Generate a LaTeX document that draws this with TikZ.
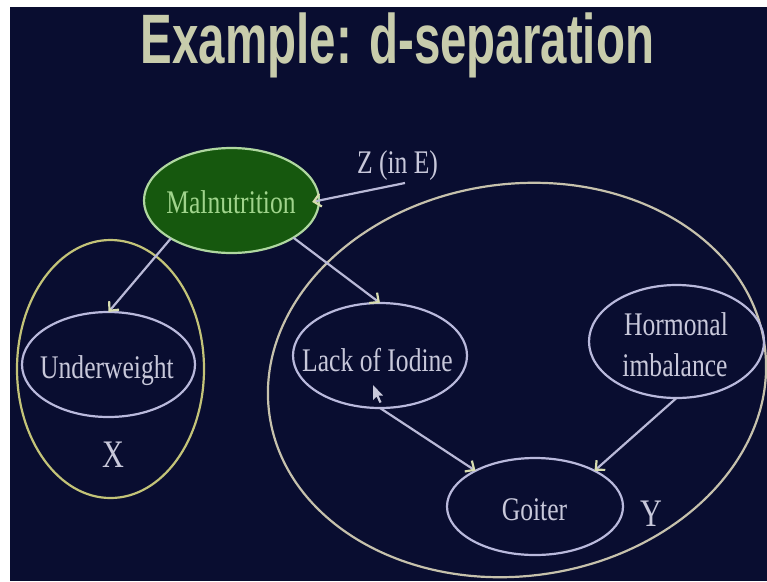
\documentclass[tikz,border=0pt]{standalone}
\usepackage{fontspec}
\setmainfont{Liberation Serif}
\newfontfamily\titlefont{Liberation Sans}
\usepackage{graphicx}
\usetikzlibrary{arrows.meta,shapes.geometric}
\definecolor{bgnavy}{RGB}{9,13,48}
\definecolor{nodeline}{RGB}{185,185,220}
\definecolor{txtcol}{RGB}{200,200,218}
\definecolor{titlecol}{RGB}{200,204,172}
\definecolor{malgreen}{RGB}{22,88,14}
\definecolor{malline}{RGB}{175,215,160}
\definecolor{maltext}{RGB}{160,212,140}
\definecolor{xline}{RGB}{195,195,120}
\definecolor{yline}{RGB}{198,193,172}
\definecolor{arrcol}{RGB}{185,185,215}
\definecolor{tipcol}{RGB}{215,220,175}
\newcommand\sq[1]{\scalebox{0.775}[1]{#1}}
\begin{document}
\begin{tikzpicture}[x=1pt,y=-1pt,
  ell/.style={ellipse, draw=nodeline, line width=2.2pt, inner sep=0pt, outer sep=0pt},
  setell/.style={ellipse, line width=2.2pt, inner sep=0pt, outer sep=0pt},
  lbl/.style={font=\fontsize{33}{40}\selectfont, text=txtcol, inner sep=0pt, anchor=base},
  biglbl/.style={font=\fontsize{39}{44}\selectfont, text=txtcol, inner sep=0pt, anchor=base},
  arr/.style={draw=arrcol, line width=2.2pt, -{Straight Barb[length=7pt,width=13pt,color=tipcol]}}
]
\useasboundingbox (0,0) rectangle (767,581);
\fill[white] (0,0) rectangle (767,581);
\fill[bgnavy] (10,7) rectangle (767,581);

% title
\node[anchor=base, text=titlecol, inner sep=0pt,
  font=\titlefont\bfseries\fontsize{70}{80}\selectfont] (title) at (397.5,63)
  {\scalebox{0.678}[1]{Example: d-separation}};

% set ellipses
\node[setell, draw=yline, minimum width=500pt, minimum height=392pt, rotate=8] (yset) at (517,380) {};
\node[setell, draw=xline, minimum width=187pt, minimum height=258pt] (xset) at (110.5,369) {};

% nodes
\node[ell, fill=malgreen, draw=malline, minimum width=175pt, minimum height=105pt] (mal) at (231.5,200.5) {};
\node[lbl, text=maltext] (maltxt) at (231,213) {\sq{Malnutrition}};

\node[ell, minimum width=173pt, minimum height=105pt] (under) at (108.5,364.5) {};
\node[lbl] (undertxt) at (107,378) {\sq{Underweight}};

\node[ell, minimum width=174pt, minimum height=105pt] (lack) at (380,355.5) {};
\node[lbl] (lacktxt) at (377.5,371) {\sq{Lack of Iodine}};

\node[ell, minimum width=175pt, minimum height=113pt] (horm) at (676.5,341.5) {};
\node[lbl] (hormtxt1) at (676,335) {\sq{Hormonal}};
\node[lbl] (hormtxt2) at (675,376) {\sq{imbalance}};

\node[ell, minimum width=176pt, minimum height=97pt] (goiter) at (535,506.5) {};
\node[lbl] (goitertxt) at (534.5,520) {\sq{Goiter}};

% labels
\node[lbl] (ztxt) at (397.5,173) {\sq{Z (in E)}};
\node[biglbl] (xtxt) at (113,467) {\sq{X}};
\node[biglbl] (ytxt) at (651,526) {\sq{Y}};

% cursor
\fill[txtcol] (373,385) -- (373,400) -- (376.5,396.5) -- (379.5,403) -- (381.5,402) -- (378.5,395.5) -- (383,395.5) -- cycle;

% arrows
\coordinate (zstart) at (405,183);
\draw[arr, shorten >=-7pt] (zstart) -- (mal.east);
\draw[arr] (mal.-148) -- (under.north);
\draw[arr] (mal.-31) -- (lack.north);
\draw[arr] (lack.south) -- (goiter.149);
\draw[arr] (horm.south) -- (goiter.31);
\end{tikzpicture}
\end{document}
